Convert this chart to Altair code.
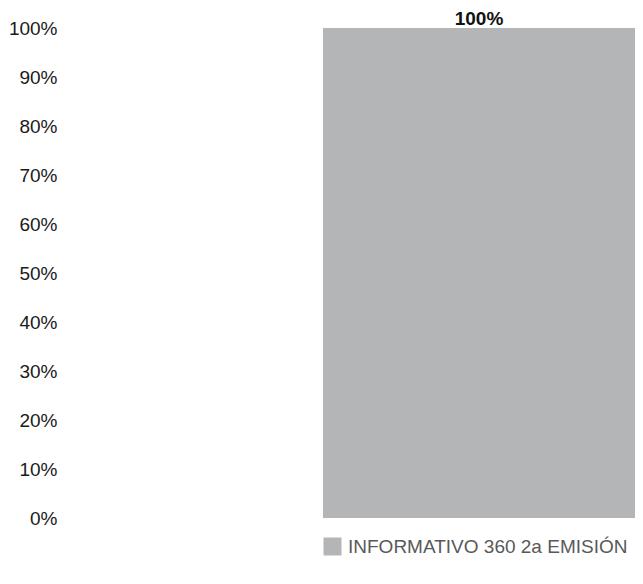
import altair as alt
import pandas as pd

categories = ["INFORMATIVO 360 2a EMISIÓN"]
values = [1.0]
value_labels = ["100%"]

df = pd.DataFrame({"serie": categories, "valor": values, "etiqueta": value_labels})

FONT = "Liberation Sans Narrow, Arial Narrow, Liberation Sans, Arial, sans-serif"
BAR = "#b3b5b6"

base = alt.Chart(df).encode(
    x=alt.X("serie:N", axis=None,
            scale=alt.Scale(paddingOuter=0.4183, paddingInner=0, align=1)),
)

bars = base.mark_bar(color=BAR).encode(
    y=alt.Y("valor:Q",
            scale=alt.Scale(domain=[0, 1], nice=False),
            axis=alt.Axis(format="%", values=[i / 10 for i in range(11)],
                          domain=False, ticks=False, grid=False, title=None,
                          labelFont=FONT, labelFontSize=19, labelColor="#1a1a1a",
                          labelPadding=5)),
    color=alt.Color("serie:N",
                    scale=alt.Scale(range=[BAR]),
                    legend=alt.Legend(title=None, orient="none", legendX=261, legendY=509,
                                      symbolType="square", symbolSize=324,
                                      symbolStrokeWidth=0, labelFont=FONT,
                                      labelFontSize=19, labelColor="#595959",
                                      labelOffset=6, padding=0, labelLimit=400)),
)

text = base.mark_text(font=FONT, fontSize=19, fontWeight="bold", color="#111111",
                      baseline="alphabetic", dy=-3).encode(
    y=alt.Y("valor:Q"),
    text="etiqueta:N",
)

chart = (bars + text).properties(
    width=573, height=490,
    autosize=alt.AutoSizeParams(type="none"),
    padding={"left": 54, "top": 20, "right": 0, "bottom": 44},
).configure_view(stroke=None)

chart.save("out.html", embed_options={"renderer": "svg", "actions": False})
